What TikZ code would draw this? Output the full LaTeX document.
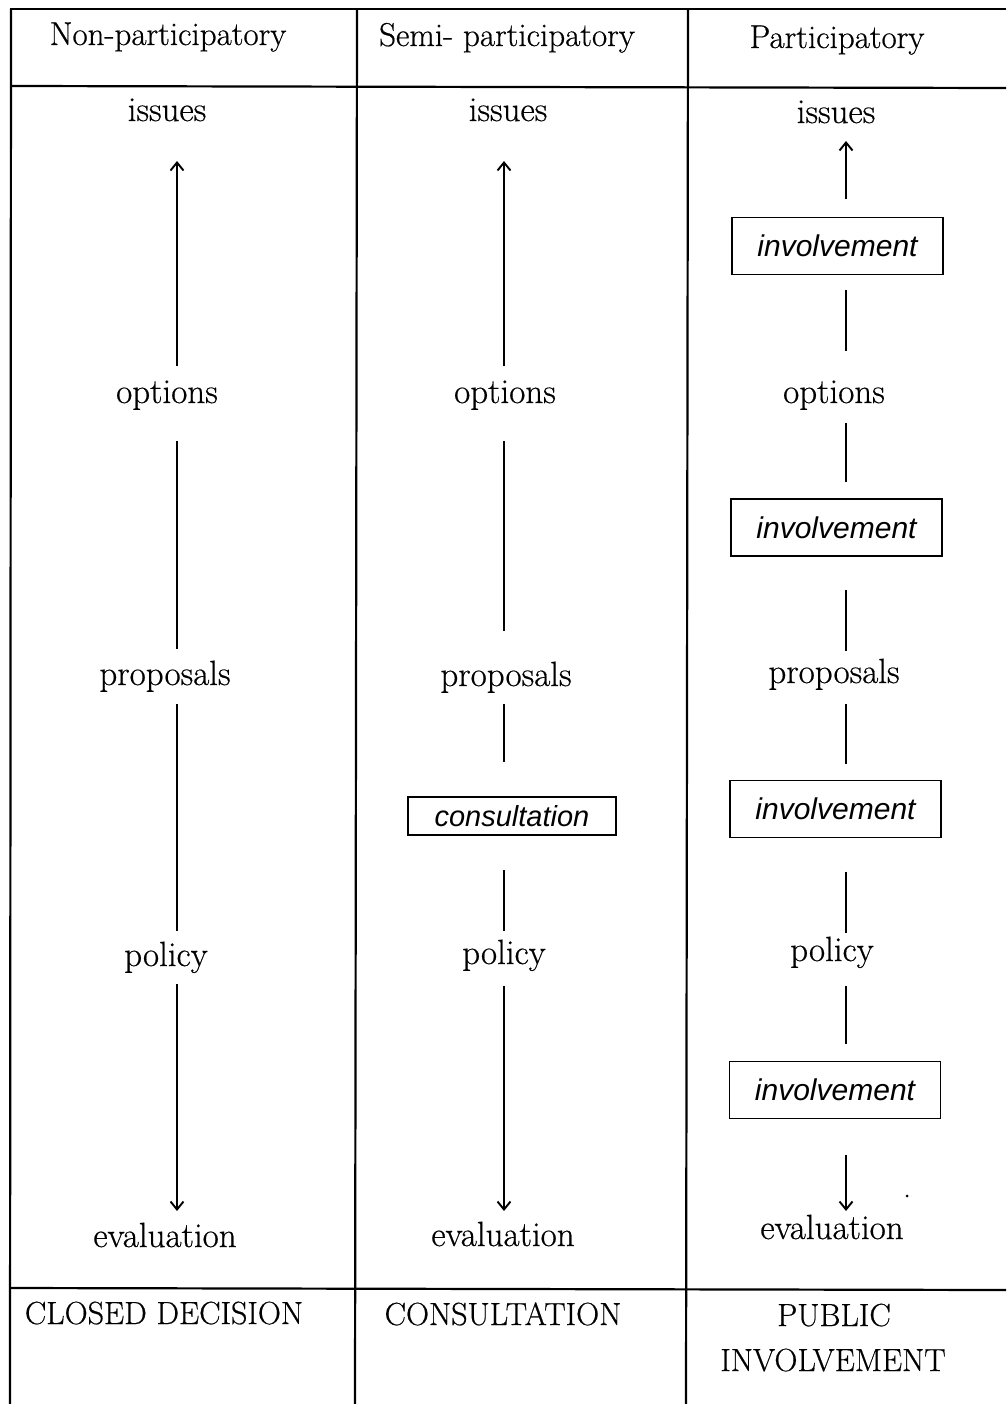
\documentclass[tikz,border=0pt]{standalone}
\usepackage{fontspec}
\setmainfont{Latin Modern Roman}[FakeBold=0.5]
\newfontfamily\boxfont{Liberation Sans}
\usetikzlibrary{arrows.meta}
\begin{document}
\begin{tikzpicture}[x=1pt,y=-1pt,
  lab/.style={font=\fontsize{35}{40}\selectfont, inner sep=0pt, outer sep=0pt, text height=22pt, text depth=7pt, anchor=base},
  head/.style={font=\fontsize{33}{38}\selectfont, inner sep=0pt, anchor=base},
  foot/.style={font=\fontsize{32}{38}\selectfont, inner sep=0pt, anchor=base},
  ibox/.style={draw, line width=1.6pt, inner sep=0pt, outer sep=0pt, minimum width=211pt, minimum height=57pt, font=\boxfont\itshape\fontsize{30}{36}\selectfont},
  cbox/.style={draw, line width=1.6pt, inner sep=0pt, outer sep=0pt, minimum width=208pt, minimum height=38pt, font=\boxfont\itshape\fontsize{29}{35}\selectfont},
  grid/.style={line width=2.2pt},
  conn/.style={line width=1.9pt},
  arr/.style={conn, -{Straight Barb[length=8pt,width=13pt,line width=1.9pt]}}]
\useasboundingbox (0,0) rectangle (1006,1404);
\fill[white] (0,0) rectangle (1006,1404);
% table lines
\draw[grid] (10,9) -- (1006,9);
\draw[grid] (11,86) -- (1006,88);
\draw[grid] (11,1288) -- (1006,1290);
\draw[grid] (11,9) -- (10,1404);
\draw[grid] (357,9) -- (355,1404);
\draw[grid] (688,9) -- (686,1404);
% headers
\node[head] (h1) at (168,45) {Non-participatory};
\node[head] (h2) at (507,46) {Semi- participatory};
\node[head] (h3) at (837,48) {Participatory};
% line columns
\coordinate (L1) at (177,0);
\coordinate (L2) at (504,0);
\coordinate (L3) at (846,0);
% column 1
\node[lab] (i1) at (167,121) {issues};
\node[lab] (o1) at (167,403) {options};
\node[lab] (p1) at (165,685) {proposals};
\node[lab] (y1) at (166,966) {policy};
\node[lab] (e1) at (165,1247) {evaluation};
% column 2
\node[lab] (i2) at (508,121) {issues};
\node[lab] (o2) at (505,403) {options};
\node[lab] (p2) at (506,686) {proposals};
\node[cbox] (c2) at (512,816) {consultation};
\node[lab] (y2) at (504,964) {policy};
\node[lab] (e2) at (503,1246) {evaluation};
% column 3
\node[lab] (i3) at (836,123) {issues};
\node[ibox] (b1) at (837.5,246) {involvement};
\node[lab] (o3) at (834,403) {options};
\node[ibox] (b2) at (836.5,527.5) {involvement};
\node[lab] (p3) at (834,683) {proposals};
\node[ibox] (b3) at (835.5,809) {involvement};
\node[lab] (y3) at (832,961) {policy};
\node[ibox] (b4) at (835,1090) {involvement};
\node[lab] (e3) at (832,1239) {evaluation};
% footers
\node[foot] (f1) at (164,1324) {CLOSED DECISION};
\node[foot] (f2) at (503,1325) {CONSULTATION};
\node[foot] (f3) at (834,1326) {PUBLIC};
\node[foot] (f4) at (833,1371) {INVOLVEMENT};
% connectors column 1
\draw[arr, shorten <=15pt, shorten >=33pt] (o1.north -| L1) -- (i1.south -| L1);
\draw[conn, shorten <=31pt, shorten >=14pt] (o1.south -| L1) -- (p1.north -| L1);
\draw[conn, shorten <=12pt, shorten >=13pt] (p1.south -| L1) -- (y1.north -| L1);
\draw[arr, shorten <=11pt, shorten >=14pt] (y1.south -| L1) -- (e1.north -| L1);
% connectors column 2
\draw[arr, shorten <=15pt, shorten >=33pt] (o2.north -| L2) -- (i2.south -| L2);
\draw[conn, shorten <=31pt, shorten >=33pt] (o2.south -| L2) -- (p2.north -| L2);
\draw[conn, shorten <=11pt, shorten >=35pt] (p2.south -| L2) -- (c2.north -| L2);
\draw[conn, shorten <=35pt, shorten >=11pt] (c2.south -| L2) -- (y2.north -| L2);
\draw[arr, shorten <=15pt, shorten >=13pt] (y2.south -| L2) -- (e2.north -| L2);
% connectors column 3
\draw[arr, shorten <=18pt, shorten >=11pt] (b1.north -| L3) -- (i3.south -| L3);
\draw[conn, shorten <=16pt, shorten >=30pt] (b1.south -| L3) -- (o3.north -| L3);
\draw[conn, shorten <=13pt, shorten >=17pt] (o3.south -| L3) -- (b2.north -| L3);
\draw[conn, shorten <=34pt, shorten >=10pt] (b2.south -| L3) -- (p3.north -| L3);
\draw[conn, shorten <=14pt, shorten >=17pt] (p3.south -| L3) -- (b3.north -| L3);
\draw[conn, shorten <=34pt, shorten >=6pt] (b3.south -| L3) -- (y3.north -| L3);
\draw[conn, shorten <=18pt, shorten >=18pt] (y3.south -| L3) -- (b4.north -| L3);
\draw[arr, shorten <=36pt, shorten >=6pt] (b4.south -| L3) -- (e3.north -| L3);
% speck
\fill (907,1196) circle (1.5pt);
\end{tikzpicture}
\end{document}
